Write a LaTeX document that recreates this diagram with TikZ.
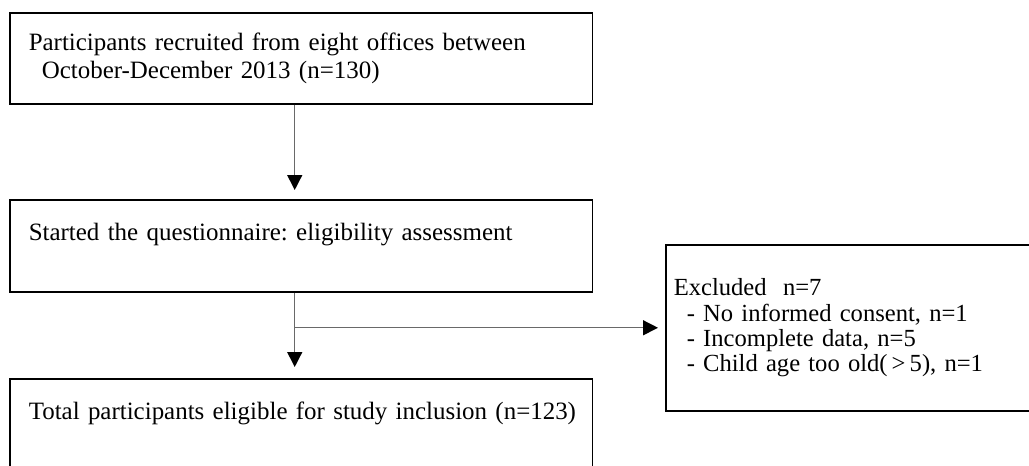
\documentclass[tikz,border=0pt]{standalone}
\usepackage{fontspec}
\setmainfont{Liberation Serif}
\usetikzlibrary{arrows.meta,positioning,calc}
\definecolor{FlowGray}{RGB}{105,105,105}
\frenchspacing

\begin{document}
\begin{tikzpicture}[x=0.02cm,y=-0.02cm,
  >={Triangle[length=0.3cm,width=0.3cm,color=black]},
  flowbox/.style={draw,line width=0.9pt,anchor=north west,align=left,
    inner xsep=0.38cm,text width=10.9cm,minimum height=1.84cm,
    font=\fontsize{14.2}{15.9}\selectfont},
  flowline/.style={->,FlowGray,line width=0.8pt}]
\useasboundingbox (0,0) rectangle (1029,466);
\node[flowbox,minimum height=1.82cm] (b1) at (9,12)
  {Participants recruited from eight offices between\\
   \hspace*{0.26cm}October-December 2013 (n=130)};
\node[flowbox] (b2) at (9,199) {Started the questionnaire: eligibility assessment\\ \mbox{}};
\node[flowbox] (b3) at (9,378) {\mbox{Total participants eligible for study inclusion (n=123)}\\ \mbox{}};
\node[draw,line width=0.9pt,anchor=north west,align=left,inner xsep=0.16cm,
  text width=7.08cm,minimum height=3.32cm,font=\fontsize{14}{14.4}\selectfont] (excl) at (665,244)
  {Excluded~~n=7\\
   \hspace*{0.26cm}- No informed consent, n=1\\
   \hspace*{0.26cm}- Incomplete data, n=5\\
   \hspace*{0.26cm}- Child age too old(\,>\,5), n=1};
\coordinate (split) at ([xshift=-0.13cm]b2.south |- excl.west);
\draw[flowline,shorten >=0.18cm] ([xshift=-0.13cm]b1.south) -- ([xshift=-0.13cm]b2.north);
\draw[flowline,shorten >=0.22cm] ([xshift=-0.13cm]b2.south) -- ([xshift=-0.13cm]b3.north);
\draw[flowline,shorten >=0.14cm] (split) -- (excl.west);
\end{tikzpicture}
\end{document}
